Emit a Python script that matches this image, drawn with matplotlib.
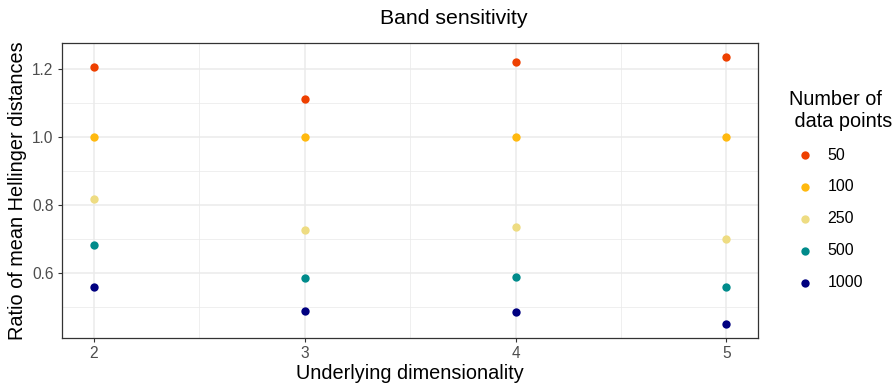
"""Band sensitivity: ratio of mean Hellinger distances by dimensionality."""

import matplotlib.pyplot as plt
from matplotlib.ticker import MultipleLocator

plt.rcParams["font.family"] = ["Liberation Sans", "DejaVu Sans"]

dims = [2, 3, 4, 5]
n_points = ["50", "100", "250", "500", "1000"]
ratios = {
    "50": [1.207, 1.110, 1.219, 1.236],
    "100": [1.000, 1.000, 1.000, 1.000],
    "250": [0.818, 0.726, 0.735, 0.700],
    "500": [0.681, 0.585, 0.588, 0.558],
    "1000": [0.558, 0.487, 0.484, 0.448],
}
colors = ["#EE4000", "#FFB90F", "#EEDC82", "#008B8B", "#000080"]

fig = plt.figure(figsize=(8.94, 3.89), dpi=100)
ax = fig.add_axes([0.0694, 0.132, 0.7786, 0.7567])

for label, color in zip(n_points, colors):
    ax.scatter(dims, ratios[label], s=36, color=color, label=label,
               linewidths=0, zorder=3)

ax.set_xlim(1.85, 5.15)
ax.set_ylim(0.4086, 1.2754)
ax.xaxis.set_major_locator(MultipleLocator(1))
ax.xaxis.set_minor_locator(MultipleLocator(0.5))
ax.yaxis.set_major_locator(MultipleLocator(0.2))
ax.yaxis.set_minor_locator(MultipleLocator(0.1))
ax.yaxis.set_major_formatter(lambda v, _: f"{v:.1f}")

ax.grid(which="major", color="#EBEBEB", linewidth=1.1, zorder=0)
ax.grid(which="minor", color="#EBEBEB", linewidth=0.55, zorder=0)
ax.set_axisbelow(True)
ax.tick_params(which="minor", length=0)
ax.tick_params(which="major", length=3, width=0.8, color="#333333",
               labelcolor="#4D4D4D", labelsize=11.2, pad=3)
for spine in ax.spines.values():
    spine.set_color("#333333")
    spine.set_linewidth(0.9)

ax.set_xlabel("Underlying dimensionality", fontsize=14.3, labelpad=2)
ax.set_ylabel("Ratio of mean Hellinger distances", fontsize=14.3, labelpad=4)
fig.suptitle("Band sensitivity", x=0.507, y=0.977, fontsize=15.3,
             va="top")

leg = ax.legend(
    title="Number of\n data points",
    loc="upper left",
    bbox_to_anchor=(0.866, 0.806),
    bbox_transform=fig.transFigure,
    frameon=False,
    fontsize=11.5,
    title_fontsize=14.3,
    handletextpad=0.45,
    labelspacing=1.05,
    markerscale=1.0,
    alignment="left",
)

fig.savefig("out.png", dpi=100)
